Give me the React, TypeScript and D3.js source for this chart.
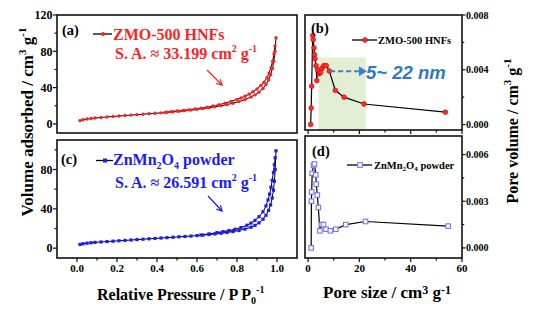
import React from 'react';
import * as d3 from 'd3';

// ---------- Data ----------
// (a) ZMO-500 HNFs isotherm
const pAdsA = [0.015,0.03,0.05,0.07,0.09,0.12,0.15,0.18,0.21,0.24,0.27,0.30,0.33,0.36,0.39,0.42,0.45,0.48,0.51,0.54,0.57,0.60,0.63,0.66,0.69,0.72,0.75,0.78,0.81,0.84,0.87,0.89,0.91,0.93,0.945,0.958,0.968,0.977,0.984,0.99,0.995];
const vAdsA = [3.6,4.6,5.4,6.0,6.5,7.1,7.7,8.2,8.7,9.2,9.7,10.2,10.7,11.2,11.7,12.2,12.8,13.4,14.0,14.7,15.4,16.2,17.0,17.9,18.9,20.0,21.3,22.8,24.6,26.8,29.6,32.0,35.0,39.0,43.5,48.5,54,61,69,80,95];
const pDesA = [0.99,0.985,0.978,0.97,0.96,0.95,0.935,0.92,0.90,0.88,0.86,0.84,0.82,0.80,0.77,0.74,0.71,0.68,0.65,0.62,0.59,0.56,0.53,0.50,0.47,0.44];
const vDesA = [86,77,69,62,56,51,46,42.5,38.5,35.5,32.8,30.5,28.6,27,24.8,22.9,21.2,19.8,18.5,17.4,16.4,15.5,14.8,14.2,13.4,12.7];

// (c) ZnMn2O4 powder isotherm
const pAdsC = [0.015,0.03,0.05,0.07,0.09,0.12,0.15,0.18,0.21,0.24,0.27,0.30,0.33,0.36,0.39,0.42,0.45,0.48,0.51,0.54,0.57,0.60,0.63,0.66,0.69,0.72,0.75,0.78,0.81,0.84,0.87,0.89,0.91,0.93,0.945,0.958,0.968,0.976,0.982,0.987,0.991,0.995];
const vAdsC = [3.8,4.5,5.1,5.5,5.9,6.3,6.7,7.1,7.5,7.9,8.3,8.7,9.1,9.5,9.9,10.3,10.7,11.1,11.5,11.9,12.3,12.8,13.3,13.9,14.5,15.2,16.0,16.9,18.0,19.4,21.3,23.2,25.8,29.5,33.5,38.5,44,51,59,68,80,99];
const pDesC = [0.991,0.987,0.982,0.976,0.970,0.963,0.955,0.945,0.93,0.91,0.89,0.87,0.85,0.82,0.79,0.76,0.73,0.70,0.66,0.62];
const vDesC = [92,85,77,69,62,55,49,43,37,32,28.3,25.5,23.3,21,19.2,17.9,16.8,15.8,14.5,13.4];

// (b) ZMO-500 HNFs pore size distribution
const sizeB = [1.0,1.2,1.4,1.8,2.0,2.3,2.5,2.7,3.1,3.4,3.7,4.3,4.9,5.4,6.1,7.1,8.3,10.6,14.0,21.8,53.5];
const volB = [0.0000,0.0012,0.0028,0.0065,0.0062,0.0056,0.0051,0.0048,0.0043,0.0032,0.0040,0.0037,0.0038,0.0041,0.0043,0.0043,0.0039,0.0025,0.0020,0.0015,0.0009];

// (d) ZnMn2O4 powder pore size distribution
const sizeD = [1.2,1.3,1.4,1.6,2.1,2.5,3.0,3.2,3.6,4.0,4.6,5.2,6.0,7.0,8.7,10.8,14.7,22.4,54.6];
const volD = [0.0000,0.0030,0.0036,0.0048,0.0053,0.0054,0.0047,0.0041,0.0034,0.0026,0.0011,0.0015,0.0015,0.0012,0.0011,0.0012,0.0015,0.0017,0.0014];

// ticks
const ticksVolA = [0, 40, 80, 120];
const minorVolA = [20, 60, 100];
const ticksVolC = [0, 40, 80];
const minorVolC = [20, 60, 100];
const ticksP = [0, 0.2, 0.4, 0.6, 0.8, 1.0];
const minorP = [0.1, 0.3, 0.5, 0.7, 0.9];
const ticksSize = [0, 20, 40, 60];
const minorSize = [10, 30, 50];
const ticksVolB = [0, 0.004, 0.008];
const minorVolB = [0.002, 0.006];
const ticksVolD = [0, 0.003, 0.006];
const minorVolD = [0.0015, 0.0045];
const highlightRange = [4, 22.5];

const SERIF = '"Liberation Serif", "Times New Roman", serif';
const RED = '#ff1f1f';
const BLUE = '#1a1aff';

export default function App() {
  const xP = d3.scaleLinear().domain([-0.1, 1.1]).range([57, 297]);
  const yA = d3.scaleLinear().domain([-10, 120]).range([133, 15]);
  const yC = d3.scaleLinear().domain([-10, 110]).range([258, 140]);
  const xS = d3.scaleLinear().domain([-1.2, 60]).range([305, 462]);
  const yB = d3.scaleLinear().domain([-0.0004, 0.008]).range([130, 15]);
  const yD = d3.scaleLinear().domain([-0.00065, 0.0072]).range([258, 136]);

  const mk = (xs: number[], ys: number[]) => xs.map((x, i) => [x, ys[i]] as [number, number]);
  const lineA = d3.line<[number, number]>().x(d => xP(d[0])).y(d => yA(d[1]));
  const lineC = d3.line<[number, number]>().x(d => xP(d[0])).y(d => yC(d[1]));
  const lineB = d3.line<[number, number]>().x(d => xS(d[0])).y(d => yB(d[1]));
  const lineD = d3.line<[number, number]>().x(d => xS(d[0])).y(d => yD(d[1]));

  const adsA = mk(pAdsA, vAdsA), desA = mk(pDesA, vDesA);
  const adsC = mk(pAdsC, vAdsC), desC = mk(pDesC, vDesC);
  const ptsB = mk(sizeB, volB), ptsD = mk(sizeD, volD);

  const frame = (x0: number, x1: number, y0: number, y1: number) => (
    <rect x={x0} y={y0} width={x1 - x0} height={y1 - y0} fill="none" stroke="#111" strokeWidth={1.6} />
  );

  const leftAxis = (y: any, major: number[], minor: number[], x0: number) => (
    <g>
      {major.map(t => (
        <g key={'M' + t}>
          <line x1={x0} x2={x0 - 4} y1={y(t)} y2={y(t)} stroke="#111" strokeWidth={1.2} />
          <text x={x0 - 4.5} y={y(t)} dy="0.36em" textAnchor="end" fontSize={12} fontWeight="bold" fontFamily={SERIF}>{t}</text>
        </g>
      ))}
      {minor.map(t => (
        <line key={'m' + t} x1={x0} x2={x0 - 2.5} y1={y(t)} y2={y(t)} stroke="#111" strokeWidth={1.2} />
      ))}
    </g>
  );

  const rightAxis = (y: any, major: number[], minor: number[], x0: number) => (
    <g>
      {major.map(t => (
        <g key={'M' + t}>
          <line x1={x0} x2={x0 + 3.5} y1={y(t)} y2={y(t)} stroke="#111" strokeWidth={1.2} />
          <text x={x0 + 4} y={y(t)} dy="0.36em" fontSize={10} fontWeight="bold" fontFamily={SERIF}>{t.toFixed(3)}</text>
        </g>
      ))}
      {minor.map(t => (
        <line key={'m' + t} x1={x0} x2={x0 + 2.2} y1={y(t)} y2={y(t)} stroke="#111" strokeWidth={1.2} />
      ))}
    </g>
  );

  const bottomAxis = (x: any, major: number[], minor: number[], y0: number, labels: boolean, fmt: (v: number) => string) => (
    <g>
      {major.map(t => (
        <g key={'M' + t}>
          <line x1={x(t)} x2={x(t)} y1={y0} y2={y0 + 4} stroke="#111" strokeWidth={1.2} />
          {labels && (
            <text x={x(t)} y={y0 + 14} textAnchor="middle" fontSize={11} fontWeight="bold" fontFamily={SERIF}>{fmt(t)}</text>
          )}
        </g>
      ))}
      {minor.map(t => (
        <line key={'m' + t} x1={x(t)} x2={x(t)} y1={y0} y2={y0 + 2.5} stroke="#111" strokeWidth={1.2} />
      ))}
    </g>
  );

  const arrow = (x1: number, y1: number, x2: number, y2: number, color: string) => {
    const a = Math.atan2(y2 - y1, x2 - x1);
    const L = 6, s = 0.5;
    const p1 = [x2 - L * Math.cos(a - s), y2 - L * Math.sin(a - s)];
    const p2 = [x2 - L * Math.cos(a + s), y2 - L * Math.sin(a + s)];
    return (
      <g stroke={color} strokeWidth={1.2} fill="none">
        <line x1={x1} y1={y1} x2={x2} y2={y2} />
        <polyline points={`${p1[0]},${p1[1]} ${x2},${y2} ${p2[0]},${p2[1]}`} />
      </g>
    );
  };

  const sq = 4.6;

  return (
    <svg width={548} height={321} style={{ position: 'absolute', left: 0, top: 0, background: '#fff' }} fontFamily={SERIF}>
      {/* ---------- Panel a ---------- */}
      <path d={lineA(adsA) || ''} fill="none" stroke="#000" strokeWidth={1} />
      <path d={lineA(desA) || ''} fill="none" stroke="#000" strokeWidth={1} />
      {adsA.concat(desA).map((d, i) => (
        <circle key={'a' + i} cx={xP(d[0])} cy={yA(d[1])} r={1.7} fill={RED} />
      ))}
      {frame(57, 297, 15, 133)}
      {leftAxis(yA, ticksVolA, minorVolA, 57)}
      <text x={62} y={35} fontSize={14.5} fontWeight="bold">(a)</text>
      <line x1={93} x2={112} y1={34} y2={34} stroke="#000" strokeWidth={1.3} />
      <circle cx={103} cy={34} r={2} fill={RED} />
      <text x={113} y={39.5} fontSize={16} fontWeight="bold" fill={RED}>ZMO-500 HNFs</text>
      <text x={115} y={58.5} fontSize={16} fontWeight="bold" fill={RED}>
        S. A. ≈ 33.199 cm<tspan fontSize={10} dy={-7}>2</tspan><tspan dy={7}> g</tspan><tspan fontSize={10} dy={-7}>-1</tspan>
      </text>
      {arrow(207, 70, 222, 85, RED)}

      {/* ---------- Panel c ---------- */}
      <path d={lineC(adsC) || ''} fill="none" stroke="#000" strokeWidth={1} />
      <path d={lineC(desC) || ''} fill="none" stroke="#000" strokeWidth={1} />
      {adsC.concat(desC).map((d, i) => (
        <rect key={'c' + i} x={xP(d[0]) - 1.6} y={yC(d[1]) - 1.6} width={3.2} height={3.2} fill={BLUE} />
      ))}
      {frame(57, 297, 140, 258)}
      {leftAxis(yC, ticksVolC, minorVolC, 57)}
      {bottomAxis(xP, ticksP, minorP, 258, true, v => v.toFixed(1))}
      <text x={61} y={164} fontSize={14.5} fontWeight="bold">(c)</text>
      <line x1={96} x2={113} y1={160.5} y2={160.5} stroke="#000" strokeWidth={1.3} />
      <rect x={103} y={158.5} width={4} height={4} fill={BLUE} />
      <text x={113} y={164.5} fontSize={16} fontWeight="bold" fill={BLUE}>
        ZnMn<tspan fontSize={10} dy={4}>2</tspan><tspan dy={-4}>O</tspan><tspan fontSize={10} dy={4}>4</tspan><tspan dy={-4}> powder</tspan>
      </text>
      <text x={115} y={187.5} fontSize={16} fontWeight="bold" fill={BLUE}>
        S. A. ≈ 26.591 cm<tspan fontSize={10} dy={-7}>2</tspan><tspan dy={7}> g</tspan><tspan fontSize={10} dy={-7}>-1</tspan>
      </text>
      {arrow(208, 196, 222, 211, BLUE)}

      {/* ---------- Panel b ---------- */}
      <rect x={xS(highlightRange[0])} y={yB(0.0049)} width={xS(highlightRange[1]) - xS(highlightRange[0])} height={130 - yB(0.0049)} fill="#e3efd5" />
      <path d={lineB(ptsB) || ''} fill="none" stroke="#000" strokeWidth={1.2} />
      {ptsB.map((d, i) => (
        <circle key={'b' + i} cx={xS(d[0])} cy={yB(d[1])} r={2.4} fill="#ff2a2a" stroke="#c80000" strokeWidth={0.6} />
      ))}
      {frame(305, 462, 15, 130)}
      {rightAxis(yB, ticksVolB, minorVolB, 462)}
      {bottomAxis(xS, ticksSize, minorSize, 130, false, v => String(v))}
      <text x={311} y={32.5} fontSize={14.5} fontWeight="bold">(b)</text>
      <line x1={352} x2={377} y1={40} y2={40} stroke="#000" strokeWidth={1.3} />
      <circle cx={365} cy={40} r={2.4} fill="#ff2a2a" stroke="#c80000" strokeWidth={0.6} />
      <text x={378} y={43.5} fontSize={10.5} fontWeight="bold">ZMO-500 HNFs</text>
      <line x1={xS(8.6)} x2={xS(21)} y1={yB(0.0039)} y2={yB(0.0039)} stroke="#3f7fc8" strokeWidth={2} strokeDasharray="5,3" />
      <polygon points={`${xS(21) - 3},${yB(0.0039) - 5} ${xS(21) + 5},${yB(0.0039)} ${xS(21) - 3},${yB(0.0039) + 5}`} fill="#3f7fc8" />
      <text x={366} y={78.5} fontSize={18.5} fontStyle="italic" fontWeight="bold" fontFamily='"Liberation Sans", Arial, sans-serif' fill="#2f78c8">5~ 22 nm</text>

      {/* ---------- Panel d ---------- */}
      <path d={lineD(ptsD) || ''} fill="none" stroke="#000" strokeWidth={1.2} />
      {ptsD.map((d, i) => (
        <rect key={'d' + i} x={xS(d[0]) - sq / 2} y={yD(d[1]) - sq / 2} width={sq} height={sq} fill="#f4f4ff" stroke="#6e6ef5" strokeWidth={1} />
      ))}
      {frame(305, 462, 136, 258)}
      {rightAxis(yD, ticksVolD, minorVolD, 462)}
      {bottomAxis(xS, ticksSize, minorSize, 258, true, v => String(v))}
      <text x={312} y={156} fontSize={14.5} fontWeight="bold">(d)</text>
      <line x1={347} x2={372} y1={165} y2={165} stroke="#000" strokeWidth={1.3} />
      <rect x={360 - sq / 2} y={165 - sq / 2} width={sq} height={sq} fill="#f4f4ff" stroke="#6e6ef5" strokeWidth={1} />
      <text x={374} y={168.5} fontSize={10.5} fontWeight="bold">
        ZnMn<tspan fontSize={7} dy={2.5}>2</tspan><tspan dy={-2.5}>O</tspan><tspan fontSize={7} dy={2.5}>4</tspan><tspan dy={-2.5}> powder</tspan>
      </text>

      {/* ---------- Axis titles ---------- */}
      <text transform="translate(33,122) rotate(-90)" textAnchor="middle" fontSize={17} fontWeight="bold">
        Volume adsorbed / cm<tspan fontSize={11} dy={-7}>3</tspan><tspan dy={7}> g</tspan><tspan fontSize={11} dy={-7}>-1</tspan>
      </text>
      <text transform="translate(518,131) rotate(-90)" textAnchor="middle" fontSize={16} fontWeight="bold">
        Pore volume / cm<tspan fontSize={11} dy={-7}>3</tspan><tspan dy={7}> g</tspan><tspan fontSize={11} dy={-7}>-1</tspan>
      </text>
      <text x={97} y={300} fontSize={16} fontWeight="bold">
        Relative Pressure / P P<tspan fontSize={10} dy={4}>0</tspan><tspan fontSize={10} dy={-11}>-1</tspan>
      </text>
      <text x={323} y={298} fontSize={17} fontWeight="bold">
        Pore size / cm<tspan fontSize={12} dy={-4}>3</tspan><tspan dy={4}> g</tspan><tspan fontSize={12} dy={-4}>-1</tspan>
      </text>
    </svg>
  );
}
